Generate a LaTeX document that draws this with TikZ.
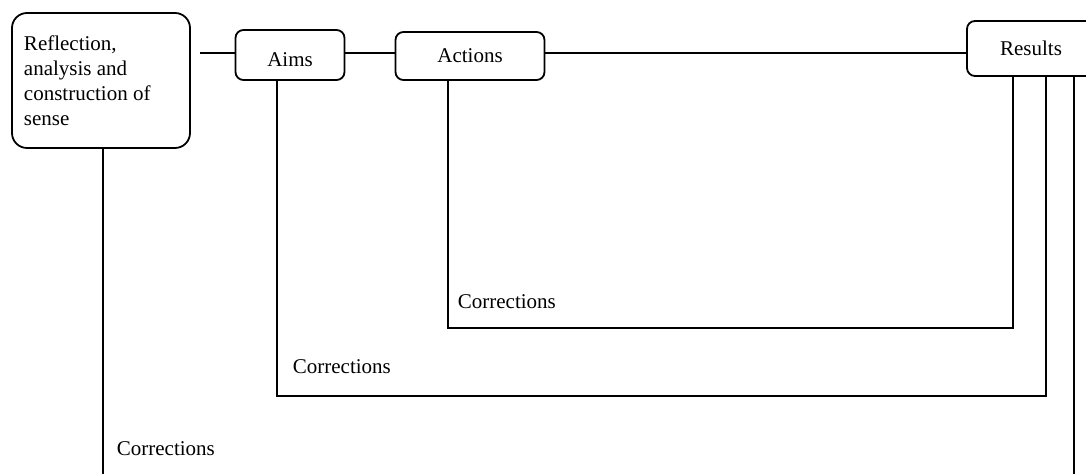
\documentclass[tikz,border=0pt]{standalone}
\usepackage{fontspec}
\setmainfont{Liberation Serif}
\usetikzlibrary{positioning}

\begin{document}
\begin{tikzpicture}[x=0.5pt,y=-0.5pt,line width=0.9pt]
  \tikzstyle{stagebox}=[draw,rounded corners=4pt,inner sep=0pt,
    font=\fontsize{10.5}{12.5}\selectfont]
  \tikzstyle{sensebox}=[draw,rounded corners=7.5pt,inner xsep=6pt,
    minimum width=89pt,minimum height=67.5pt,text width=77pt,align=flush left,
    font=\fontsize{10.5}{12.5}\selectfont]
  \tikzstyle{fixlabel}=[anchor=west,inner sep=0pt,
    font=\fontsize{10.5}{12.5}\selectfont]
  \useasboundingbox (0,0) rectangle (1086,474);
  \clip (0,0) rectangle (1086,474);
  \node[sensebox] (sense) at (101,80.5) {Reflection,\\analysis and\\construction of\\sense};
  \node[stagebox,minimum width=54.5pt,minimum height=25pt,text height=12pt,text depth=0pt] (aims) at (290,55) {Aims};
  \node[stagebox,minimum width=74.5pt,minimum height=24pt] (actions) at (470,56) {Actions};
  \node[stagebox,minimum width=64pt,minimum height=27.5pt] (results) at (1031,48.5) {Results};
  % top chain
  \coordinate (gap) at (200,53);
  \draw (gap)--(gap -| aims.west);
  \draw (gap -| aims.east)--(gap -| actions.west);
  \draw (gap -| actions.east)--(gap -| results.west);
  % ports on the boxes
  \coordinate (senseOut) at ([xshift=1pt]sense.south);
  \coordinate (actOut) at ([xshift=-11pt]actions.south);
  \coordinate (aimOut) at ([xshift=-6.5pt]aims.south);
  \coordinate (resA) at ([xshift=-9pt]results.south);
  \coordinate (resB) at ([xshift=7.5pt]results.south);
  \coordinate (resC) at ([xshift=21.5pt]results.south);
  % correction loops
  \coordinate (loopA) at (0,328);
  \coordinate (loopB) at (0,396);
  \coordinate (bottom) at (0,474);
  \draw (actOut) |- (loopA -| resA) -- (resA);
  \draw (aimOut) |- (loopB -| resB) -- (resB);
  \draw (senseOut) -- (senseOut |- bottom);
  \draw (resC) -- (resC |- bottom);
  \node[fixlabel] (fixA) at (457,302) {Corrections};
  \node[fixlabel] (fixB) at (292,367) {Corrections};
  \node[fixlabel] (fixC) at (116,449) {Corrections};
\end{tikzpicture}
\end{document}
